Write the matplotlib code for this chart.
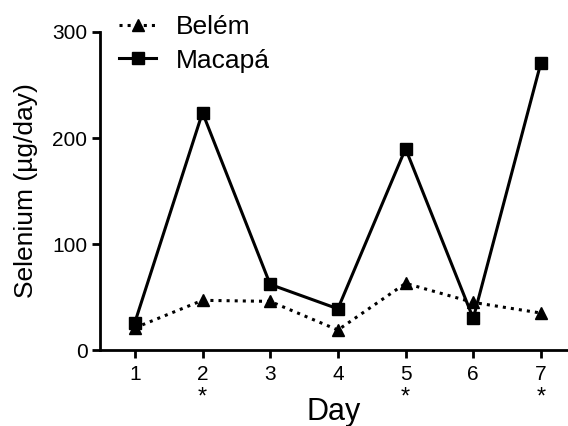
import matplotlib
matplotlib.use("Agg")
import matplotlib.pyplot as plt
from matplotlib.transforms import blended_transform_factory

plt.rcParams['font.family'] = ['Liberation Sans', 'DejaVu Sans']

days = [1, 2, 3, 4, 5, 6, 7]
belem = [21, 47, 46, 19, 63, 45, 35]
macapa = [26, 224, 62, 39, 190, 30, 271]
sig_days = [2, 5, 7]
yticks = [0, 100, 200, 300]

fig = plt.figure(figsize=(5.68, 4.26), dpi=100)
ax = fig.add_axes([0.176, 0.178, 0.824, 0.747])

ax.plot(days, belem, linestyle=':', color='black', linewidth=2.2, marker='^',
        markersize=9, label='Belém')
ax.plot(days, macapa, linestyle='-', color='black', linewidth=2.2, marker='s',
        markersize=9, label='Macapá')

ax.set_xlim(0.485, 7.4)
ax.set_ylim(0, 300)
ax.set_xticks(days)
ax.set_yticks(yticks)
ax.tick_params(axis='both', labelsize=15, width=2, length=6, direction='out', pad=3)
ax.tick_params(axis='x', pad=5)
for s in ['top', 'right']:
    ax.spines[s].set_visible(False)
for s in ['left', 'bottom']:
    ax.spines[s].set_linewidth(2)

trans = blended_transform_factory(ax.transData, fig.transFigure)
for d in sig_days:
    ax.text(d, 0.068, '*', transform=trans, ha='center', va='center', fontsize=17)

ax.set_xlabel('Day', fontsize=22, labelpad=9)
ax.set_ylabel('Selenium (µg/day)', fontsize=19, labelpad=10)

ax.legend(loc='upper left', bbox_to_anchor=(0.205, 0.97), bbox_transform=fig.transFigure,
          frameon=False, fontsize=19, handlelength=1.4, handletextpad=0.75,
          labelspacing=0.35, borderpad=0.1, borderaxespad=0)

fig.savefig('out.png', dpi=100)
